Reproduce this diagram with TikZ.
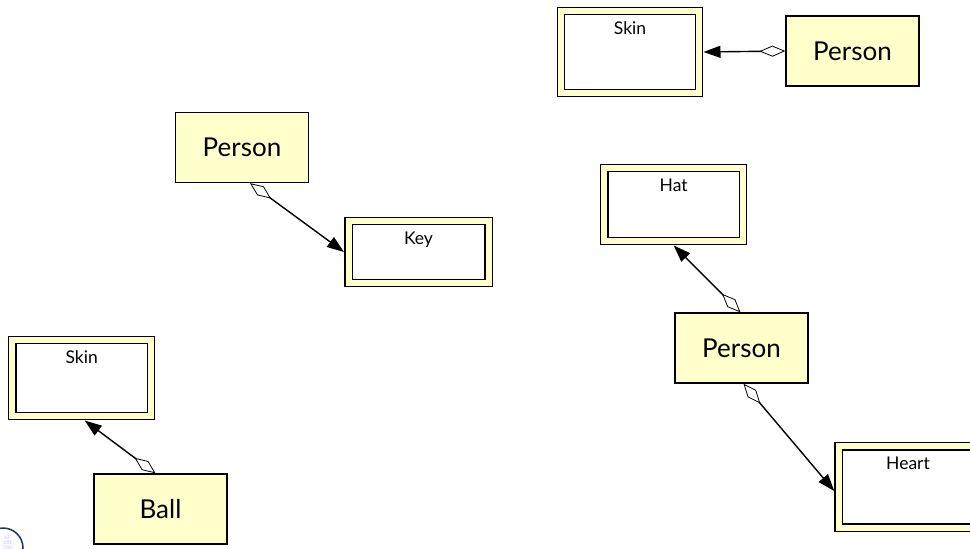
\documentclass[tikz,border=0pt]{standalone}
\usepackage{fontspec}
\setmainfont{Lato}
\usepackage{tikz}
\usetikzlibrary{arrows.meta}
\definecolor{classyellow}{RGB}{255,255,204}
\definecolor{logoblue}{RGB}{30,50,100}

\begin{document}
\begin{tikzpicture}[x=1pt,y=-1pt,
classbox/.style={draw, line width=1.3pt, fill=classyellow, minimum width=133pt, minimum height=70pt, font=\fontsize{26}{30}\selectfont},
partbox/.style={draw, line width=1.3pt, double=classyellow, double distance=6pt, fill=white, outer sep=4.5pt},
partname/.style={anchor=north, yshift=-12pt, font=\fontsize{17.5}{20}\selectfont},
aggr/.style={line width=1.4pt, {Diamond[open,length=26pt,width=11pt,line width=0.8pt]}-{Triangle[length=17pt,width=12pt]}}
]
\useasboundingbox (0,0) rectangle (970,549);

\node[partbox, minimum width=138pt, minimum height=82pt, label={[partname]north:Skin}] (skinA) at (630,52) {};
\node[classbox] (personA) at (852.5,51) {Person};

\node[classbox] (personB) at (242,147.5) {Person};
\node[partbox, minimum width=140pt, minimum height=62pt, label={[partname]north:Key}] (key) at (418.5,252) {};

\node[partbox, minimum width=138.5pt, minimum height=76pt, label={[partname]north:Skin}] (skinB) at (81.7,378) {};
\node[classbox] (ball) at (160.5,509) {Ball};

\node[partbox, minimum width=138.5pt, minimum height=73pt, label={[partname]north:Hat}] (hat) at (673.7,204.5) {};
\node[classbox] (personC) at (741.5,348) {Person};
\node[partbox, minimum width=138.5pt, minimum height=81.5pt, label={[partname]north:Heart}] (heart) at (908,487) {};

\draw[aggr] (personA.west) -- (skinA.east);
\draw[aggr] ([xshift=8pt]personB.south) -- (key.west);
\draw[aggr] ([xshift=-5pt]ball.north) -- ([xshift=3pt]skinB.south);
\draw[aggr] ([xshift=-1pt]personC.north) -- (hat.south);
\draw[aggr] ([xshift=2pt]personC.south) -- ([yshift=-4pt]heart.west);

% logo
\draw[logoblue, line width=1.5pt] (3,548) circle (20pt);
\node[text=blue!25, font=\fontsize{5}{5}\selectfont, align=left] (logo) at (8,543) {10\\001\\010};
\end{tikzpicture}
\end{document}
